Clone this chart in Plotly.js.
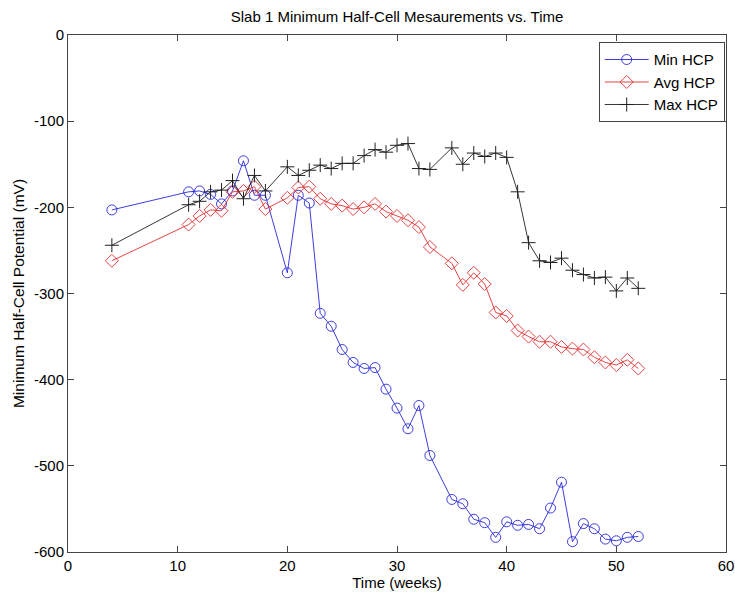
<!DOCTYPE html>
<html>
<head>
<meta charset="utf-8">
<script src="https://cdn.plot.ly/plotly-3.0.1.min.js"></script>
<style>html,body{margin:0;padding:0;background:#fff;}#chart{width:735px;height:593px;}</style>
</head>
<body>
<div id="chart"></div>
<script>
const minWeeks = [4,11,12,13,14,15,16,17,18,20,21,22,23,24,25,26,27,28,29,30,31,32,33,35,36,37,38,39,40,41,42,43,44,45,46,47,48,49,50,51,52];
const minHCP = [-203,-182,-181,-185,-196,-181,-146,-186,-186,-276,-186,-195,-323,-338,-365,-380,-387,-386,-411,-433,-457,-430,-488,-539,-544,-562,-566,-583,-565,-569,-568,-573,-549,-519,-588,-567,-573,-585,-587,-583,-582];

const avgWeeks = [4,11,12,13,14,15,16,17,18,20,21,22,23,24,25,26,27,28,29,30,31,32,33,35,36,37,38,39,40,41,42,43,44,45,46,47,48,49,50,51,52];
const avgHCP = [-262,-220,-210,-203,-204,-182,-181,-176,-202,-189,-177,-176,-190,-196,-198,-202,-200,-196,-205,-210,-215,-223,-246,-265,-290,-276,-289,-322,-326,-343,-350,-356,-356,-362,-364,-365,-374,-380,-383,-377,-387];

const maxWeeks = [4,11,12,13,14,15,16,17,18,20,21,22,23,24,25,26,27,28,29,30,31,32,33,35,36,37,38,39,40,41,42,43,44,45,46,47,48,49,50,51,52];
const maxHCP = [-244,-197,-193,-182,-180,-169,-190,-163,-181,-153,-163,-157,-151,-155,-149,-149,-140,-133,-136,-128,-126,-155,-156,-131,-150,-137,-141,-137,-142,-182,-241,-262,-264,-259,-273,-278,-282,-281,-297,-282,-294];

const xTicks = [0,10,20,30,40,50,60];
const yTicks = [0,-100,-200,-300,-400,-500,-600];

const font = "Arial, 'Liberation Sans', Helvetica, sans-serif";

const traces = [
  {x: minWeeks, y: minHCP, name: 'Min HCP', mode: 'lines+markers', type: 'scatter',
   line: {color: '#2828d8', width: 0.9},
   marker: {symbol: 'circle-open', size: 10, color: '#2828d8', line: {width: 0.9}}},
  {x: avgWeeks, y: avgHCP, name: 'Avg HCP', mode: 'lines+markers', type: 'scatter',
   line: {color: '#e03030', width: 0.9},
   marker: {symbol: 'diamond-open', size: 10, color: '#e03030', line: {width: 0.9}}},
  {x: maxWeeks, y: maxHCP, name: 'Max HCP', mode: 'lines+markers', type: 'scatter',
   line: {color: '#202020', width: 0.9},
   marker: {symbol: 'cross-thin-open', size: 10, color: '#202020', line: {width: 1}}}
];

const layout = {
  width: 735, height: 593,
  margin: {l: 68, r: 9, t: 35, b: 41, pad: 0},
  paper_bgcolor: '#ffffff', plot_bgcolor: '#ffffff',
  font: {family: font, size: 15, color: '#000'},
  showlegend: true,
  title: {text: 'Slab 1 Minimum Half-Cell Mesaurements vs. Time', font: {family: font, size: 15, color: '#000'},
          x: 0.5, xref: 'paper', xanchor: 'center', y: 0.972, yref: 'container', yanchor: 'middle'},
  xaxis: {range: [0, 60], tickvals: xTicks, ticktext: xTicks.map(String), ticks: 'inside', ticklen: 6,
          tickcolor: '#444', showline: true, linecolor: '#444', linewidth: 1, mirror: 'ticks',
          showgrid: false, zeroline: false, tickfont: {size: 15},
          title: {text: 'Time (weeks)', font: {size: 15}, standoff: 2}},
  yaxis: {range: [-600, 0], tickvals: yTicks, ticktext: yTicks.map(String), ticks: 'inside', ticklen: 6,
          tickcolor: '#444', showline: true, linecolor: '#444', linewidth: 1, mirror: 'ticks',
          showgrid: false, zeroline: false, tickfont: {size: 15},
          title: {text: 'Minimum Half-Cell Potential (mV)', font: {size: 15.5}, standoff: 5}},
  legend: {x: 0.998, xanchor: 'right', y: 0.986, yanchor: 'top', bgcolor: '#fff',
           bordercolor: '#444', borderwidth: 1, font: {size: 15}, tracegroupgap: 0, itemwidth: 44}
};

Plotly.newPlot('chart', traces, layout, {staticPlot: true, displayModeBar: false});
</script>
</body>
</html>
